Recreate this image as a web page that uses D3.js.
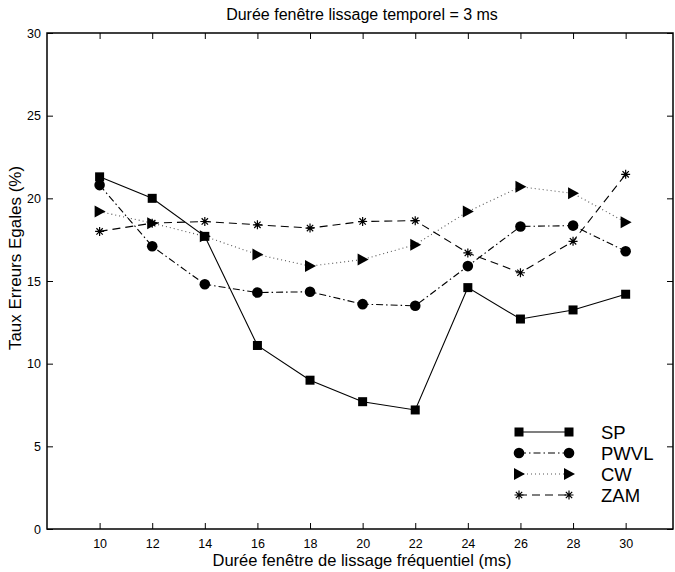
<!DOCTYPE html>
<html>
<head>
<meta charset="utf-8">
<script src="https://cdn.jsdelivr.net/npm/d3@7"></script>
<style>
  body { margin: 0; background: #fff; }
  svg text { font-family: "Liberation Sans", Arial, sans-serif; fill: #000; }
</style>
</head>
<body>
<svg id="chart" width="675" height="572"></svg>
<script>
// data
var windows = [10, 12, 14, 16, 18, 20, 22, 24, 26, 28, 30];
var spValues   = [21.3, 20.0, 17.7, 11.1, 9.0, 7.7, 7.2, 14.6, 12.7, 13.25, 14.2];
var pwvlValues = [20.8, 17.1, 14.8, 14.3, 14.35, 13.6, 13.5, 15.9, 18.3, 18.35, 16.8];
var cwValues   = [19.2, 18.5, 17.7, 16.6, 15.9, 16.3, 17.2, 19.2, 20.7, 20.3, 18.55];
var zamValues  = [18.0, 18.5, 18.6, 18.4, 18.2, 18.6, 18.65, 16.7, 15.5, 17.4, 21.45];
var seriesNames = ["SP", "PWVL", "CW", "ZAM"];
var yTicks = [0, 5, 10, 15, 20, 25, 30];

var svg = d3.select("#chart");
// plot box ("top" is reserved on window, hence the p prefix)
var pLeft = 47, pRight = 673, pTop = 33, pBottom = 529;

var x = d3.scaleLinear().domain([8, 31.8]).range([pLeft, pRight]);
var y = d3.scaleLinear().domain([0, 30]).range([pBottom, pTop]);

var series = [
    {name: seriesNames[0], values: spValues,   dash: null,        color: "#000", marker: "square"},
    {name: seriesNames[1], values: pwvlValues, dash: "7,3,1.5,3", color: "#000", marker: "circle"},
    {name: seriesNames[2], values: cwValues,   dash: "1,3",       color: "#555", marker: "triangle"},
    {name: seriesNames[3], values: zamValues,  dash: "8,5",       color: "#000", marker: "star"}
];

// axes, ticks inside, mirrored on top / right
var g = svg.append("g");
g.append("g").attr("transform", "translate(0," + pBottom + ")")
    .call(d3.axisBottom(x).tickValues(windows).tickSizeInner(-6).tickSizeOuter(0).tickPadding(10));
g.append("g").attr("transform", "translate(0," + pTop + ")")
    .call(d3.axisTop(x).tickValues(windows).tickSizeInner(-6).tickSizeOuter(0).tickFormat(""));
g.append("g").attr("transform", "translate(" + pLeft + ",0)")
    .call(d3.axisLeft(y).tickValues(yTicks).tickSizeInner(-6).tickSizeOuter(0).tickPadding(6));
g.append("g").attr("transform", "translate(" + pRight + ",0)")
    .call(d3.axisRight(y).tickValues(yTicks).tickSizeInner(-6).tickSizeOuter(0).tickFormat(""));
g.selectAll(".domain").remove();
g.selectAll(".tick line").attr("stroke", "#000").attr("stroke-width", 1);
g.selectAll(".tick text").attr("font-size", 12.5);

svg.append("rect")
    .attr("x", pLeft).attr("y", pTop)
    .attr("width", pRight - pLeft).attr("height", pBottom - pTop)
    .attr("fill", "none").attr("stroke", "#000").attr("stroke-width", 1.5);

// titles
svg.append("text").attr("x", 362).attr("y", 20)
    .attr("text-anchor", "middle").attr("font-size", 16)
    .text("Durée fenêtre lissage temporel = 3 ms");
svg.append("text").attr("x", 362).attr("y", 566)
    .attr("text-anchor", "middle").attr("font-size", 16.5)
    .text("Durée fenêtre de lissage fréquentiel (ms)");
svg.append("text")
    .attr("transform", "translate(21,258) rotate(-90)")
    .attr("text-anchor", "middle").attr("font-size", 17)
    .text("Taux Erreurs Egales (%)");

function drawMarker(sel, type, cx, cy) {
    if (type == "square") {
        sel.append("rect").attr("x", cx - 4.5).attr("y", cy - 4.5)
            .attr("width", 9).attr("height", 9).attr("fill", "#000");
    } else if (type == "circle") {
        sel.append("circle").attr("cx", cx).attr("cy", cy).attr("r", 5.3).attr("fill", "#000");
    } else if (type == "triangle") {
        sel.append("path")
            .attr("d", "M" + (cx - 5) + "," + (cy - 6) + "L" + (cx + 6) + "," + cy + "L" + (cx - 5) + "," + (cy + 6) + "Z")
            .attr("fill", "#000");
    } else {
        var r = 4.5;
        var p = "";
        for (var k = 0; k < 4; k++) {
            var a = k * Math.PI / 4;
            p += "M" + (cx - r * Math.cos(a)) + "," + (cy - r * Math.sin(a)) +
                 "L" + (cx + r * Math.cos(a)) + "," + (cy + r * Math.sin(a));
        }
        sel.append("path").attr("d", p).attr("stroke", "#000").attr("stroke-width", 1.2);
    }
}

var line = d3.line()
    .x(function(d) { return x(d[0]); })
    .y(function(d) { return y(d[1]); });

series.forEach(function(s) {
    var pts = windows.map(function(w, i) { return [w, s.values[i]]; });
    svg.append("path")
        .datum(pts)
        .attr("d", line)
        .attr("fill", "none")
        .attr("stroke", s.color)
        .attr("stroke-width", 1.1)
        .attr("stroke-dasharray", s.dash);
    var mg = svg.append("g");
    pts.forEach(function(d) {
        drawMarker(mg, s.marker, x(d[0]), y(d[1]));
    });
});

// legend
var legX1 = 519, legX2 = 569, legY0 = 432, legStep = 21;
series.forEach(function(s, i) {
    var ly = legY0 + i * legStep;
    svg.append("line")
        .attr("x1", legX1).attr("x2", legX2).attr("y1", ly).attr("y2", ly)
        .attr("stroke", s.color).attr("stroke-width", 1.1)
        .attr("stroke-dasharray", s.dash);
    var mg = svg.append("g");
    drawMarker(mg, s.marker, legX1, ly);
    drawMarker(mg, s.marker, legX2, ly);
    svg.append("text").attr("x", 601).attr("y", ly + 6.5)
        .attr("font-size", 18.5).text(s.name);
});
</script>
</body>
</html>
